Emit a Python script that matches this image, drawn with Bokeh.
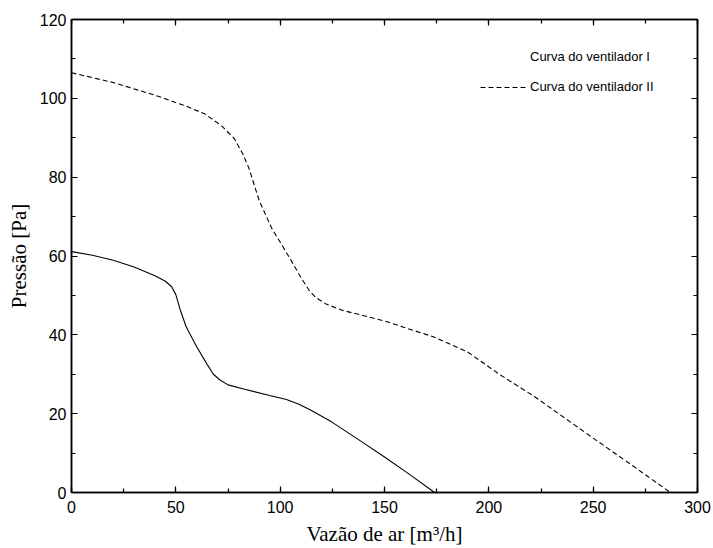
from bokeh.plotting import figure
from bokeh.models import LinearAxis, Range1d, Legend, LegendItem, SingleIntervalTicker
from bokeh.embed import file_html
from bokeh.resources import INLINE

# Curva do ventilador I (solid)
x1 = [0, 10, 20, 30, 40, 45, 48, 50, 52, 55, 60, 65, 68, 71, 75, 83, 95, 103, 109, 115, 125, 139, 150, 162, 174]
y1 = [61.1, 60.2, 58.9, 57.2, 55.0, 53.6, 52.2, 50.2, 46.5, 42.0, 37.0, 32.5, 30.0, 28.6, 27.3, 26.2, 24.6, 23.6, 22.4, 20.8, 17.8, 12.9, 9.0, 4.6, 0.0]

# Curva do ventilador II (dashed)
x2 = [0, 20, 40, 55, 64, 72, 78, 82, 85, 90, 96, 104, 110, 114, 117, 122, 130, 150, 174, 190, 205, 222, 250, 270, 287]
y2 = [106.5, 104.0, 100.8, 98.0, 96.0, 93.0, 89.8, 86.0, 82.3, 74.0, 67.0, 60.0, 54.5, 51.2, 49.5, 47.8, 46.2, 43.5, 39.4, 35.6, 30.0, 24.3, 13.8, 6.4, 0.0]

labels = ["Curva do ventilador I", "Curva do ventilador II"]
x_label = "Vazão de ar [m³/h]"
y_label = "Pressão [Pa]"

p = figure(width=713, height=548, output_backend="svg", toolbar_location=None,
           x_range=Range1d(0, 300), y_range=Range1d(0, 120),
           min_border_left=71, min_border_right=16, min_border_top=19, min_border_bottom=55)
p.background_fill_color = "white"
p.border_fill_color = "white"
p.outline_line_color = "black"
p.outline_line_width = 1.5
p.xgrid.visible = False
p.ygrid.visible = False

r1 = p.line(x1, y1, line_color="black", line_width=1.1)
r2 = p.line(x2, y2, line_color="black", line_width=1.1, line_dash="5 3")
r_dummy = p.line([], [], line_alpha=0)

def style_axis(ax, show_labels=True):
    ax.major_tick_in = 6
    ax.major_tick_out = 0
    ax.minor_tick_in = 4
    ax.minor_tick_out = 0
    ax.axis_line_color = "black"
    ax.axis_line_width = 1.5
    ax.major_tick_line_color = "black"
    ax.major_tick_line_width = 1.2
    ax.minor_tick_line_color = "black"
    ax.minor_tick_line_width = 1.2
    ax.major_label_text_font = "Liberation Sans"
    ax.major_label_text_font_size = "16px"
    ax.major_label_text_color = "black" if show_labels else None
    ax.axis_label_text_font = "Liberation Serif"
    ax.axis_label_text_font_size = "21px"
    ax.axis_label_text_font_style = "normal"
    ax.axis_label_text_color = "black"

xb = p.xaxis[0]
yl = p.yaxis[0]
xb.ticker = SingleIntervalTicker(interval=50, num_minor_ticks=2)
yl.ticker = SingleIntervalTicker(interval=20, num_minor_ticks=2)
style_axis(xb)
style_axis(yl)
xb.axis_label = x_label
yl.axis_label = y_label
xb.major_label_standoff = 8
xb.axis_label_standoff = 6
yl.major_label_standoff = 5
yl.axis_label_standoff = 6

xt = LinearAxis(ticker=SingleIntervalTicker(interval=50, num_minor_ticks=2))
style_axis(xt, show_labels=False)
xt.major_label_text_font_size = "0px"
xt.major_label_standoff = 0
p.add_layout(xt, "above")
yr = LinearAxis(ticker=SingleIntervalTicker(interval=20, num_minor_ticks=2))
style_axis(yr, show_labels=False)
yr.major_label_text_font_size = "0px"
yr.major_label_standoff = 0
p.add_layout(yr, "right")

legend = Legend(items=[LegendItem(label=labels[0], renderers=[r_dummy]),
                       LegendItem(label=labels[1], renderers=[r2])],
                location=(409, 398), border_line_color=None, background_fill_alpha=0,
                label_text_font="Liberation Sans", label_text_font_size="13px",
                label_text_color="black",
                glyph_width=48, glyph_height=14, label_height=14, label_standoff=2,
                spacing=15, padding=0, margin=0)
p.add_layout(legend)

open("out.html", "w").write(file_html(p, INLINE))
